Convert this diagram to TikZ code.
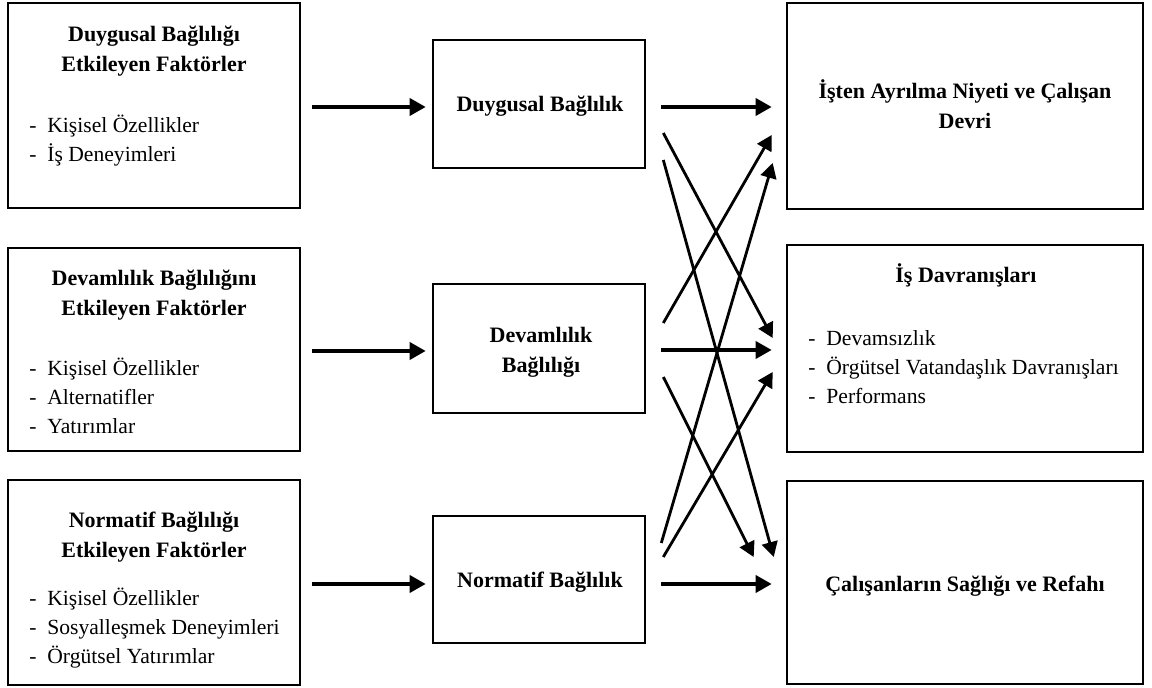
\documentclass[tikz,border=0pt]{standalone}
\usepackage{fontspec}
\setmainfont{Liberation Serif}
\usetikzlibrary{arrows.meta,calc}
\newcommand{\dashitem}[1]{\makebox[9pt][l]{-}#1}

\begin{document}
\begin{tikzpicture}[x=0.5pt,y=-0.5pt,
  box/.style={draw,line width=1.3pt,inner sep=0pt},
  ttl/.style={font=\bfseries\fontsize{11}{15}\selectfont,align=center,anchor=base,inner sep=0pt},
  lst/.style={font=\fontsize{10.8}{14.5}\selectfont,align=left,anchor=base west,inner sep=0pt},
  arr/.style={line width=1.8pt,-{Triangle[length=8pt,width=8.5pt]}},
  darr/.style={line width=1.4pt,-{Triangle[length=7.5pt,width=8pt]}}]
\useasboundingbox (0,0) rectangle (1152,688);
% factor boxes (left)
\node[box,minimum width=146pt,minimum height=102.5pt] (fDuy) at (154,105.5) {};
\node[box,minimum width=146pt,minimum height=101.5pt] (fDev) at (154,349.5) {};
\node[box,minimum width=146pt,minimum height=102.5pt] (fNor) at (154,582.5) {};
\node[ttl] (tDuy) at (154,72) {Duygusal Bağlılığı\\Etkileyen Faktörler};
\node[ttl] (tDev) at (154,316) {Devamlılık Bağlılığını\\Etkileyen Faktörler};
\node[ttl] (tNor) at (154,558) {Normatif Bağlılığı\\Etkileyen Faktörler};
\node[lst] (lDuy) at (29,162) {\dashitem{Kişisel Özellikler}\\\dashitem{İş Deneyimleri}};
\node[lst] (lDev) at (29,434) {\dashitem{Kişisel Özellikler}\\\dashitem{Alternatifler}\\\dashitem{Yatırımlar}};
\node[lst] (lNor) at (29,664) {\dashitem{Kişisel Özellikler}\\\dashitem{Sosyalleşmek Deneyimleri}\\\dashitem{Örgütsel Yatırımlar}};
% commitment boxes (middle)
\node[box,minimum width=106pt,minimum height=64pt] (bDuy) at (539,104) {};
\node[box,minimum width=106pt,minimum height=64.5pt] (bDev) at (539,348.5) {};
\node[box,minimum width=106pt,minimum height=63.5pt] (bNor) at (539,579.5) {};
\node[ttl] (mDuy) at (540,112) {Duygusal Bağlılık};
\node[ttl] (mDev) at (541,373) {Devamlılık\\Bağlılığı};
\node[ttl] (mNor) at (540,588) {Normatif Bağlılık};
% outcome boxes (right)
\node[box,minimum width=178pt,minimum height=103pt] (rAyr) at (965,106) {};
\node[box,minimum width=178pt,minimum height=103.5pt] (rDav) at (965,348.5) {};
\node[box,minimum width=178pt,minimum height=101.5pt] (rSag) at (965,582.5) {};
\node[ttl] (oAyr) at (965,129) {İşten Ayrılma Niyeti ve Çalışan\\Devri};
\node[ttl] (oDav) at (966,283) {İş Davranışları};
\node[lst] (lDav) at (808,404) {\dashitem{Devamsızlık}\\\dashitem{Örgütsel Vatandaşlık Davranışları}\\\dashitem{Performans}};
\node[ttl] (oSag) at (965,592) {Çalışanların Sağlığı ve Refahı};
% arrows
\draw[arr] ($(fDuy.east)+(11,1.5)$) -- ($(bDuy.west)+(-6,3)$);
\draw[arr] ($(fDev.east)+(11,1.5)$) -- ($(bDev.west)+(-6,2.5)$);
\draw[arr] ($(fNor.east)+(11,1.5)$) -- ($(bNor.west)+(-6,4.5)$);
\draw[arr] ($(bDuy.east)+(15,3)$) -- ($(rAyr.west)+(-14,1)$);
\draw[arr] ($(bDev.east)+(15,1.5)$) -- ($(rDav.west)+(-14,1.5)$);
\draw[arr] ($(bNor.east)+(15,4.5)$) -- ($(rSag.west)+(-14,1.5)$);
\draw[darr] ($(bDuy.east)+(17,29)$) -- ($(rDav.west)+(-13,-10.5)$);
\draw[darr] ($(bDuy.east)+(17,56)$) -- ($(rSag.west)+(-12,-25.5)$);
\draw[darr] ($(bDev.east)+(17,-25.5)$) -- ($(rAyr.west)+(-14,29)$);
\draw[darr] ($(bDev.east)+(17,28.5)$) -- ($(rSag.west)+(-32,-25.5)$);
\draw[darr] ($(bNor.east)+(15,-36.5)$) -- ($(rAyr.west)+(-13,57)$);
\draw[darr] ($(bNor.east)+(17,-22.5)$) -- ($(rDav.west)+(-13,23.5)$);
\end{tikzpicture}
\end{document}
